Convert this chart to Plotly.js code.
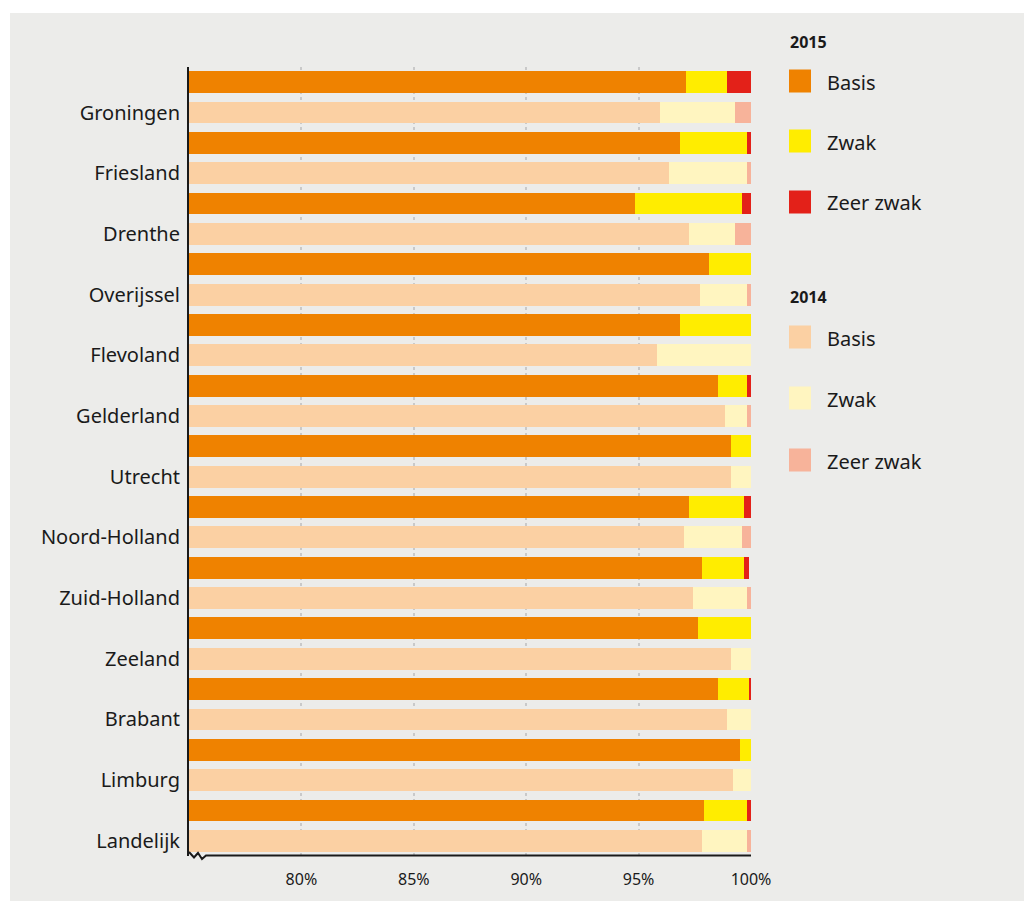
<!DOCTYPE html>
<html>
<head>
<meta charset="utf-8">
<script src="https://cdn.plot.ly/plotly-3.0.1.min.js"></script>
<style>
  html, body { margin: 0; padding: 0; background: #ffffff; }
  #chart { position: absolute; left: 10px; top: 13px; width: 1014px; height: 888px; }
</style>
</head>
<body>
<div id="chart"></div>
<script>
// ---- data ----
const provinces = ["Groningen", "Friesland", "Drenthe", "Overijssel", "Flevoland", "Gelderland",
  "Utrecht", "Noord-Holland", "Zuid-Holland", "Zeeland", "Brabant", "Limburg", "Landelijk"];

const basis2015     = [97.13, 96.82, 94.82, 98.11, 96.82, 98.53, 99.11, 97.22, 97.80, 97.62, 98.51, 99.49, 97.93];
const zwak2015      = [ 1.78,  2.98,  4.80,  1.89,  3.18,  1.27,  0.89,  2.49,  1.91,  2.38,  1.42,  0.51,  1.87];
const zeerZwak2015  = [ 1.09,  0.20,  0.38,  0.00,  0.00,  0.20,  0.00,  0.29,  0.22,  0.00,  0.07,  0.00,  0.20];

const basis2014     = [95.93, 96.33, 97.22, 97.71, 95.80, 98.84, 99.11, 97.00, 97.40, 99.13, 98.91, 99.22, 97.80];
const zwak2014      = [ 3.38,  3.47,  2.09,  2.09,  4.20,  0.96,  0.89,  2.62,  2.40,  0.87,  1.09,  0.78,  2.00];
const zeerZwak2014  = [ 0.69,  0.20,  0.69,  0.20,  0.00,  0.20,  0.00,  0.38,  0.20,  0.00,  0.00,  0.00,  0.20];

const xTickVals   = [80, 85, 90, 95, 100];
const xTickLabels = ["80%", "85%", "90%", "95%", "100%"];

const legendGroups = ["2015", "2014"];
const categoryNames = ["Basis", "Zwak", "Zeer zwak"];

// ---- styling ----
const colors2015 = ["#ef8200", "#ffed00", "#e32119"];
const colors2014 = ["#fbd0a3", "#fff5c0", "#f7b39a"];
const textColor = "#1a1a1a";
const bg = "#ececea";
const font = "'Noto Sans', 'Open Sans', sans-serif";

const y2015 = provinces.map((_, i) => 2 * i);
const y2014 = provinces.map((_, i) => 2 * i + 1);

function barTrace(x, y, name, color, group) {
  return {
    type: "bar", orientation: "h", x: x, y: y, name: name, legendgroup: group,
    marker: { color: color, line: { width: 0 } }, width: 0.72, showlegend: false,
    hoverinfo: "x+name"
  };
}

const traces = [
  barTrace(basis2015, y2015, "Basis 2015", colors2015[0], "2015"),
  barTrace(zwak2015, y2015, "Zwak 2015", colors2015[1], "2015"),
  barTrace(zeerZwak2015, y2015, "Zeer zwak 2015", colors2015[2], "2015"),
  barTrace(basis2014, y2014, "Basis 2014", colors2014[0], "2014"),
  barTrace(zwak2014, y2014, "Zwak 2014", colors2014[1], "2014"),
  barTrace(zeerZwak2014, y2014, "Zeer zwak 2014", colors2014[2], "2014")
];

// plot area in page pixels
const PL = 189, PR = 751, PT = 67, PB = 856;
const px = p => (p - PL) / (PR - PL);
const py = p => (PB - p) / (PB - PT);

const shapes = [];
const annotations = [];

// x axis line with break zigzag
shapes.push({
  type: "path", xref: "paper", yref: "paper",
  path: `M ${px(189)},${py(852)} L ${px(194)},${py(857.5)} L ${px(198)},${py(853)} L ${px(202)},${py(859)} L ${px(206)},${py(855.5)} L ${px(751)},${py(855.5)}`,
  line: { color: textColor, width: 2 }, fillcolor: "rgba(0,0,0,0)"
});

// custom legend
const legendRows = [
  { title: legendGroups[0], titleY: 42, rows: [81, 141, 202], colors: colors2015 },
  { title: legendGroups[1], titleY: 297, rows: [337, 398, 460], colors: colors2014 }
];
legendRows.forEach(g => {
  annotations.push({
    xref: "paper", yref: "paper", x: px(788), y: py(g.titleY), xanchor: "left", yanchor: "middle",
    text: "<b>" + g.title + "</b>", showarrow: false, font: { family: font, size: 16, color: textColor }
  });
  g.rows.forEach((cy, k) => {
    shapes.push({
      type: "rect", xref: "paper", yref: "paper",
      x0: px(789), x1: px(811), y0: py(cy - 11.5), y1: py(cy + 11.5),
      fillcolor: g.colors[k], line: { width: 0 }
    });
    annotations.push({
      xref: "paper", yref: "paper", x: px(825), y: py(cy + 1), xanchor: "left", yanchor: "middle",
      text: categoryNames[k], showarrow: false, font: { family: font, size: 20, color: textColor }
    });
  });
});

const layout = {
  width: 1014, height: 888,
  margin: { l: 179, r: 273, t: 54, b: 45 },
  paper_bgcolor: bg, plot_bgcolor: bg,
  barmode: "stack", bargap: 0,
  showlegend: false,
  font: { family: font, color: textColor },
  xaxis: {
    range: [75, 100], tickvals: xTickVals, ticktext: xTickLabels,
    showgrid: true, gridcolor: "#c9c9c9", gridwidth: 2, griddash: "dot",
    zeroline: false, showline: false, ticks: "", ticklabelstandoff: 12,
    tickfont: { family: font, size: 16, color: textColor }, fixedrange: true
  },
  yaxis: {
    range: [25.5, -0.5], tickvals: y2014, ticktext: provinces,
    showgrid: false, zeroline: false, showline: true, linecolor: textColor, linewidth: 2,
    ticks: "", ticklabelstandoff: 3,
    tickfont: { family: font, size: 20, color: textColor }, fixedrange: true
  },
  shapes: shapes,
  annotations: annotations
};

Plotly.newPlot("chart", traces, layout, { displayModeBar: false, staticPlot: true });
</script>
</body>
</html>
